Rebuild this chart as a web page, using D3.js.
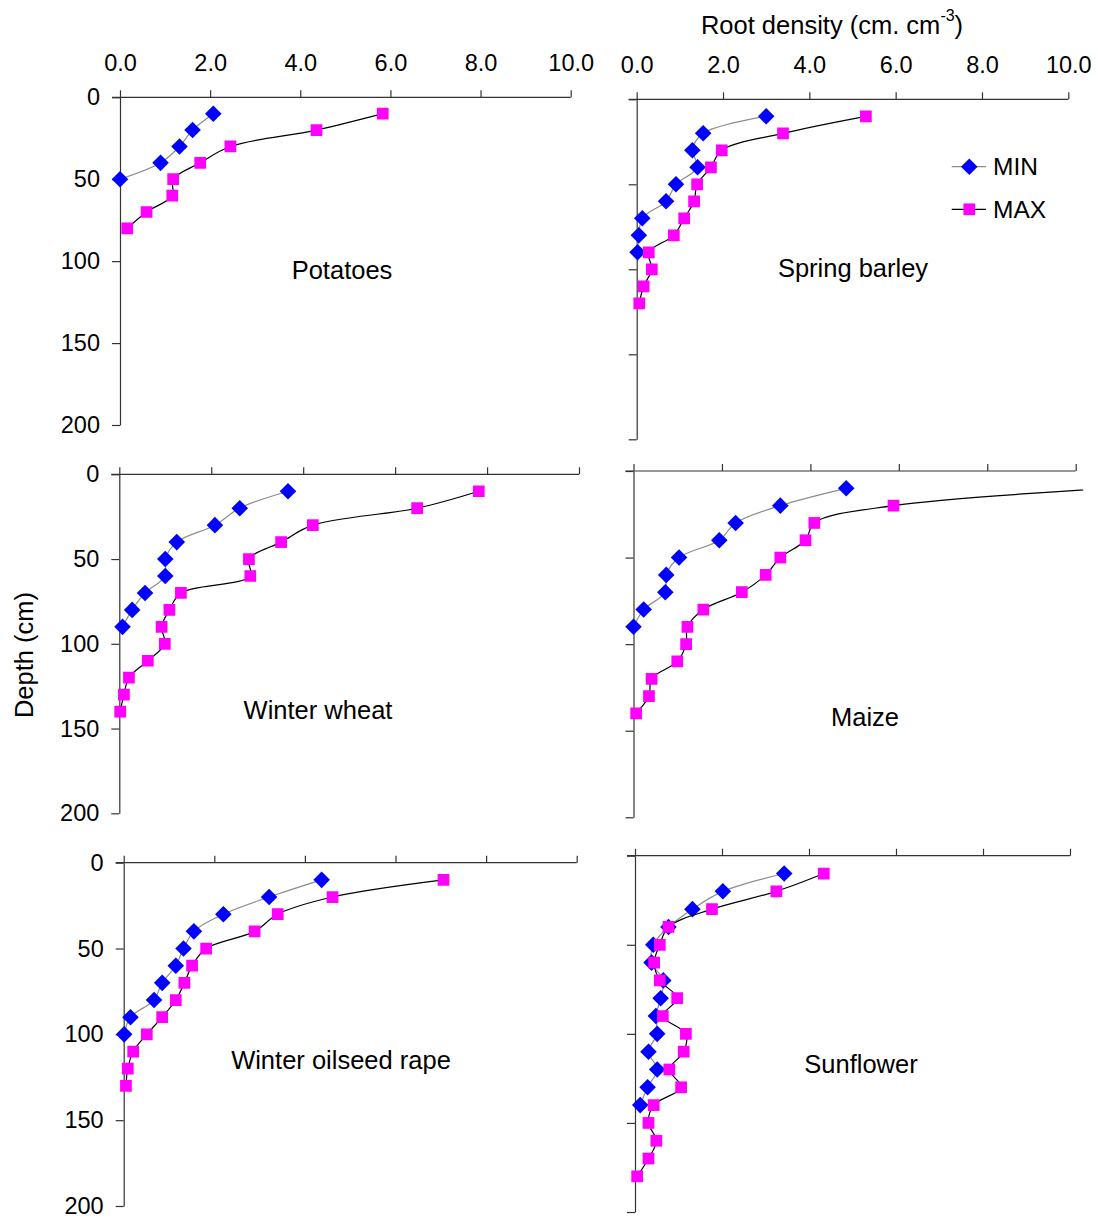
<!DOCTYPE html>
<html><head><meta charset="utf-8">
<script src="https://cdn.jsdelivr.net/npm/d3@7"></script>
<style>
html,body{margin:0;padding:0;background:#fff;}
svg{display:block;font-family:"Liberation Sans",Arial,sans-serif;}
</style></head>
<body>
<svg id="chart" width="1098" height="1218"></svg>
<script>
// ---- data ----
const depths = [10,20,30,40,50,60,70,80,90,100,110,120,130,140,150,160,170,180];
const xTicks = [0,2,4,6,8,10];
const yTicks = [0,50,100,150,200];
const seriesNames = ["MIN","MAX"];
const cropNames = ["Potatoes","Spring barley","Winter wheat","Maize","Winter oilseed rape","Sunflower"];

const potatoesMin = [2.07,1.61,1.32,0.90,0.0];
const potatoesMax = [5.83,4.36,2.45,1.78,1.18,1.16,0.59,0.16];
const springBarleyMin = [3.0,1.54,1.29,1.41,0.91,0.68,0.13,0.05,0.02];
const springBarleyMax = [5.31,3.39,1.97,1.72,1.40,1.33,1.10,0.86,0.28,0.35,0.16,0.06];
const winterWheatMin = [3.67,2.62,2.08,1.25,1.0,1.0,0.56,0.28,0.07];
const winterWheatMax = [7.82,6.48,4.21,3.52,2.82,2.85,1.34,1.09,0.92,0.99,0.62,0.21,0.10,0.02];
const maizeMin = [4.81,3.32,2.31,1.94,1.03,0.74,0.72,0.23,0.0];
const maizeMax = [10.8,5.88,4.09,3.89,3.32,2.99,2.45,1.58,1.22,1.19,0.99,0.41,0.35,0.06];
const oilseedMin = [4.37,3.21,2.20,1.55,1.32,1.15,0.85,0.67,0.15,0.01];
const oilseedMax = [7.06,4.61,3.40,2.89,1.82,1.51,1.34,1.15,0.85,0.51,0.21,0.09,0.05];
const sunflowerMin = [3.43,2.02,1.32,0.77,0.42,0.38,0.65,0.59,0.48,0.51,0.31,0.51,0.29,0.12];
const sunflowerMax = [4.34,3.25,1.77,0.77,0.57,0.44,0.57,0.97,0.64,1.17,1.12,0.79,1.06,0.43,0.31,0.49,0.31,0.05];

const cropMin = [potatoesMin, springBarleyMin, winterWheatMin, maizeMin, oilseedMin, sunflowerMin];
const cropMax = [potatoesMax, springBarleyMax, winterWheatMax, maizeMax, oilseedMax, sunflowerMax];

// ---- layout (pixel geometry of each panel) ----
const panels = [
  {x0:120,   x1:570.7,  y0:97.3,  y1:425,    xl:true,  yl:true,  lx:342, ly:270},
  {x0:636.7, x1:1068.3, y0:99.3,  y1:439.3,  xl:true,  yl:false, lx:853, ly:268},
  {x0:119.3, x1:579,    y0:474.3, y1:813.3,  xl:false, yl:true,  lx:318, ly:710},
  {x0:633.5, x1:1075.7, y0:471,   y1:817.3,  xl:false, yl:false, lx:865, ly:717},
  {x0:123.7, x1:576.7,  y0:862.7, y1:1206,   xl:false, yl:true,  lx:341, ly:1060},
  {x0:635,   x1:1070,   y0:855.7, y1:1212,   xl:false, yl:false, lx:861, ly:1064}
];

const svg = d3.select("#chart");
const defs = svg.append("defs");
const FS = 23.5;
const axisColor = "#333";
const minColor = "#0000FF", maxColor = "#FF00FF";
const minLine = "#8c8c8c", maxLine = "#000";

const diamond = d3.symbol().type(d3.symbolDiamond2).size(175);
const square = d3.symbol().type(d3.symbolSquare2).size(175);

panels.forEach((p, i) => {
  const x = d3.scaleLinear().domain([0,10]).range([p.x0, p.x1]);
  const y = d3.scaleLinear().domain([0,200]).range([p.y0, p.y1]);
  const g = svg.append("g");

  // axes
  const xa = d3.axisTop(x).tickValues(xTicks).tickSize(7).tickSizeOuter(0).tickPadding(19.5)
      .tickFormat(p.xl ? d3.format(".1f") : () => "");
  const gx = g.append("g").attr("transform", `translate(0,${p.y0})`).call(xa);
  const ya = d3.axisLeft(y).tickValues(yTicks).tickSize(8).tickSizeOuter(0).tickPadding(12)
      .tickFormat(p.yl ? d3.format("d") : () => "");
  const gy = g.append("g").attr("transform", `translate(${p.x0},0)`).call(ya);
  [gx, gy].forEach(a => {
    a.select(".domain").attr("stroke", axisColor).attr("stroke-width", 1.2);
    a.selectAll(".tick line").attr("stroke", axisColor).attr("stroke-width", 1.2);
    a.selectAll(".tick text").attr("font-size", FS).attr("fill", "#000")
      .attr("font-family", "Liberation Sans, Arial, sans-serif");
  });
  gx.select(".domain").attr("d", `M${p.x0 - 8},0H${p.x1}`);

  // clip
  const cid = "clip" + i;
  defs.append("clipPath").attr("id", cid).append("rect")
    .attr("x", p.x0 - 20).attr("y", p.y0 - 20)
    .attr("width", (p.x1 + 7.5) - (p.x0 - 20)).attr("height", p.y1 - p.y0 + 40);
  const plot = g.append("g").attr("clip-path", `url(#${cid})`);

  const line = d3.line().x(d => x(d[0])).y(d => y(d[1])).curve(d3.curveCatmullRom.alpha(0.5));
  const mn = cropMin[i].map((v, k) => [v, depths[k]]);
  const mx = cropMax[i].map((v, k) => [v, depths[k]]);

  plot.append("path").datum(mn).attr("d", line).attr("fill", "none").attr("stroke", minLine).attr("stroke-width", 1.2);
  plot.selectAll(".dm").data(mn).enter().append("path")
    .attr("d", diamond).attr("fill", minColor)
    .attr("transform", d => `translate(${x(d[0])},${y(d[1])})`);
  plot.append("path").datum(mx).attr("d", line).attr("fill", "none").attr("stroke", maxLine).attr("stroke-width", 1.2);
  plot.selectAll(".sq").data(mx).enter().append("path")
    .attr("d", square).attr("fill", maxColor)
    .attr("transform", d => `translate(${x(d[0])},${y(d[1])})`);

  // crop label
  svg.append("text").attr("x", p.lx).attr("y", p.ly).attr("text-anchor", "middle")
    .attr("dominant-baseline", "central").attr("font-size", 25.5).text(cropNames[i]);
});

// legend in Spring barley panel
const legend = svg.append("g");
[{n:seriesNames[0], y:166.7, c:minLine, m:diamond, f:minColor},
 {n:seriesNames[1], y:209.3, c:maxLine, m:square, f:maxColor}].forEach(l => {
  legend.append("line").attr("x1", 951.7).attr("x2", 986).attr("y1", l.y).attr("y2", l.y)
    .attr("stroke", l.c).attr("stroke-width", 1.2);
  legend.append("path").attr("d", l.m).attr("fill", l.f).attr("transform", `translate(969.3,${l.y})`);
  legend.append("text").attr("x", 993).attr("y", l.y).attr("dominant-baseline", "central")
    .attr("font-size", 24.5).text(l.n);
});

// axis titles
const t = svg.append("text").attr("x", 832).attr("y", 25).attr("text-anchor", "middle")
  .attr("dominant-baseline", "central").attr("font-size", 25.5);
t.append("tspan").text("Root density (cm. cm");
t.append("tspan").attr("font-size", 16).attr("dy", -10).text("-3");
t.append("tspan").attr("dy", 10).text(")");

svg.append("text").attr("transform", "translate(24,655) rotate(-90)")
  .attr("text-anchor", "middle").attr("dominant-baseline", "central")
  .attr("font-size", 25.5).text("Depth (cm)");
</script>
</body></html>
